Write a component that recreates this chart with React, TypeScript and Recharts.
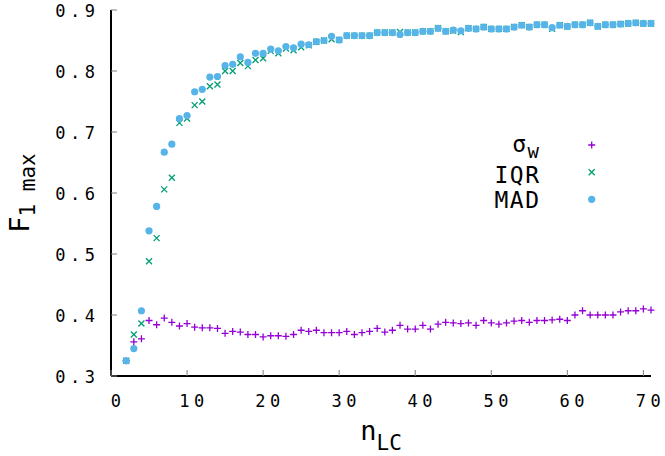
import { ScatterChart, Scatter, XAxis, YAxis, Legend } from "recharts"

// n_LC values (x) and the three estimators (y)
const nLC = [
  2, 3, 4, 5, 6, 7, 8, 9, 10, 11, 12, 13, 14, 15, 16, 17, 18, 19, 20, 21,
  22, 23, 24, 25, 26, 27, 28, 29, 30, 31, 32, 33, 34, 35, 36, 37, 38, 39, 40, 41,
  42, 43, 44, 45, 46, 47, 48, 49, 50, 51, 52, 53, 54, 55, 56, 57, 58, 59, 60, 61,
  62, 63, 64, 65, 66, 67, 68, 69, 70, 71,
]

const sigmaW = [
  0.325, 0.356, 0.361, 0.391, 0.384, 0.395, 0.388, 0.382, 0.386, 0.380,
  0.379, 0.379, 0.378, 0.370, 0.373, 0.372, 0.368, 0.368, 0.364, 0.366,
  0.366, 0.365, 0.368, 0.375, 0.373, 0.375, 0.371, 0.371, 0.371, 0.373,
  0.368, 0.371, 0.373, 0.378, 0.372, 0.375, 0.383, 0.377, 0.377, 0.383,
  0.377, 0.385, 0.388, 0.387, 0.386, 0.387, 0.383, 0.391, 0.387, 0.385,
  0.387, 0.390, 0.391, 0.388, 0.391, 0.391, 0.392, 0.393, 0.391, 0.400,
  0.407, 0.400, 0.400, 0.400, 0.400, 0.405, 0.407, 0.407, 0.410, 0.408,
]

const iqr = [
  0.325, 0.368, 0.386, 0.488, 0.526, 0.606, 0.625, 0.715, 0.722, 0.744,
  0.750, 0.775, 0.778, 0.800, 0.800, 0.813, 0.808, 0.818, 0.821, 0.833,
  0.829, 0.837, 0.834, 0.839, 0.842, 0.848, 0.850, 0.852, 0.851, 0.858,
  0.858, 0.858, 0.858, 0.863, 0.863, 0.863, 0.864, 0.863, 0.863, 0.865,
  0.865, 0.870, 0.865, 0.866, 0.864, 0.870, 0.869, 0.872, 0.869, 0.869,
  0.869, 0.872, 0.875, 0.872, 0.876, 0.876, 0.869, 0.875, 0.873, 0.876,
  0.876, 0.879, 0.873, 0.876, 0.876, 0.877, 0.878, 0.879, 0.878, 0.878,
]

const mad = [
  0.325, 0.345, 0.407, 0.538, 0.578, 0.667, 0.680, 0.722, 0.727, 0.766,
  0.770, 0.790, 0.791, 0.809, 0.811, 0.823, 0.814, 0.829, 0.829, 0.836,
  0.833, 0.840, 0.838, 0.844, 0.843, 0.848, 0.850, 0.857, 0.851, 0.858,
  0.858, 0.858, 0.858, 0.863, 0.863, 0.863, 0.860, 0.863, 0.863, 0.865,
  0.865, 0.870, 0.865, 0.867, 0.866, 0.870, 0.869, 0.872, 0.869, 0.869,
  0.869, 0.872, 0.875, 0.872, 0.876, 0.876, 0.871, 0.875, 0.873, 0.876,
  0.876, 0.879, 0.873, 0.876, 0.876, 0.877, 0.878, 0.879, 0.878, 0.878,
]

const xTicks = [0, 10, 20, 30, 40, 50, 60, 70]
const yTicks = [0.3, 0.4, 0.5, 0.6, 0.7, 0.8, 0.9]

const PURPLE = "#9400d3"
const GREEN = "#009e73"
const BLUE = "#56b4e9"
const MONO = "DejaVu Sans Mono, monospace"
const TICK_GRAY = "#808080"

const toPoints = (vals: number[]) => nLC.map((n, i) => ({ n, v: vals[i] }))

// point shapes, gnuplot style
const Plus = ({ cx, cy }: any) => (
  <path d={`M${cx - 3.5},${cy}h7M${cx},${cy - 3.5}v7`} stroke={PURPLE} strokeWidth={1.3} fill="none" />
)
const Cross = ({ cx, cy }: any) => (
  <path d={`M${cx - 3},${cy - 3}l6,6M${cx - 3},${cy + 3}l6,-6`} stroke={GREEN} strokeWidth={1.3} fill="none" />
)
const Dot = ({ cx, cy }: any) => <circle cx={cx} cy={cy} r={3.6} fill={BLUE} />

// inward ticks + labels
const BottomTick = ({ x, y, payload }: any) => (
  <g>
    <line x1={x} y1={y} x2={x} y2={y - 6} stroke={TICK_GRAY} />
    <text x={x + 7} y={y + 31} textAnchor="middle" fontFamily={MONO} fontSize={17} letterSpacing={4.5} fill="#000">
      {payload.value}
    </text>
  </g>
)
const TopTick = ({ x, y }: any) => <line x1={x} y1={y} x2={x} y2={y + 6} stroke={TICK_GRAY} />
const LeftTick = ({ x, y, payload }: any) => (
  <g>
    <line x1={x} y1={y} x2={x + 6} y2={y} stroke={TICK_GRAY} />
    <text x={x - 11.5} y={y + 7} textAnchor="end" fontFamily={MONO} fontSize={17} letterSpacing={4.5} fill="#000">
      {payload.value.toFixed(1)}
    </text>
  </g>
)
const RightTick = ({ x, y }: any) => <line x1={x} y1={y} x2={x - 6} y2={y} stroke={TICK_GRAY} />

const YLabel = ({ viewBox }: any) => {
  const cx = viewBox.x + 17.5
  const cy = viewBox.y + viewBox.height / 2
  return (
    <text x={cx} y={cy} transform={`rotate(-90, ${cx}, ${cy})`} textAnchor="middle" fontFamily={MONO} fontSize={27} fill="#000">
      F<tspan dy={6} fontSize={21}>1 max</tspan>
    </text>
  )
}

const XLabel = ({ viewBox }: any) => {
  const cx = viewBox.x + viewBox.width / 2
  const cy = viewBox.y + 64
  return (
    <text x={cx} y={cy} textAnchor="middle" fontFamily={MONO} fontSize={27} fill="#000">
      n<tspan dy={10} fontSize={21}>LC</tspan>
    </text>
  )
}

const renderLegend = () => (
  <svg width={150} height={90} style={{ display: "block" }}>
    <text x={80.5} y={22} textAnchor="end" fontFamily={MONO} fontSize={23} letterSpacing={1.5} fill="#000">
      σ<tspan dy={6} fontSize={19}>w</tspan>
    </text>
    <Plus cx={131.7} cy={15} />
    <text x={80.5} y={53.3} textAnchor="end" fontFamily={MONO} fontSize={23} letterSpacing={1.5} fill="#000">IQR</text>
    <Cross cx={131.7} cy={42.3} />
    <text x={80.5} y={78.3} textAnchor="end" fontFamily={MONO} fontSize={23} letterSpacing={1.5} fill="#000">MAD</text>
    <Dot cx={131.7} cy={69.3} />
  </svg>
)

export default function App() {
  return (
    <div style={{ position: "absolute", left: 0, top: 0, background: "#fff" }}>
      <ScatterChart width={665} height={456} margin={{ top: 10, right: 14, left: 11, bottom: 20 }}>
        <XAxis
          xAxisId="b"
          type="number"
          dataKey="n"
          domain={[0, 71]}
          ticks={xTicks}
          height={60}
          tickSize={0}
          tickMargin={0}
          tickLine={false}
          axisLine={{ stroke: "#000", strokeWidth: 2 }}
          tick={<BottomTick />}
          label={{ content: XLabel }}
        />
        <XAxis
          xAxisId="t"
          orientation="top"
          type="number"
          dataKey="n"
          domain={[0, 71]}
          ticks={xTicks}
          height={0}
          tickSize={0}
          tickMargin={0}
          tickLine={false}
          axisLine={{ stroke: "#000", strokeWidth: 2 }}
          tick={<TopTick />}
        />
        <YAxis
          yAxisId="l"
          type="number"
          dataKey="v"
          domain={[0.3, 0.9]}
          ticks={yTicks}
          width={100}
          tickSize={0}
          tickMargin={0}
          tickLine={false}
          axisLine={{ stroke: "#000", strokeWidth: 2 }}
          tick={<LeftTick />}
          label={{ content: YLabel }}
        />
        <YAxis
          yAxisId="r"
          orientation="right"
          type="number"
          dataKey="v"
          domain={[0.3, 0.9]}
          ticks={yTicks}
          width={0}
          tickSize={0}
          tickMargin={0}
          tickLine={false}
          axisLine={{ stroke: "#000", strokeWidth: 2 }}
          tick={<RightTick />}
        />
        <Scatter xAxisId="b" yAxisId="l" name="σw" data={toPoints(sigmaW)} shape={<Plus />} isAnimationActive={false} />
        <Scatter xAxisId="b" yAxisId="l" name="IQR" data={toPoints(iqr)} shape={<Cross />} isAnimationActive={false} />
        <Scatter xAxisId="b" yAxisId="l" name="MAD" data={toPoints(mad)} shape={<Dot />} isAnimationActive={false} />
        <Legend
          layout="horizontal"
          verticalAlign="middle"
          align="center"
          content={renderLegend}
          wrapperStyle={{ position: "absolute", left: 460, top: 130, width: 150, height: 90 }}
        />
      </ScatterChart>
    </div>
  )
}
